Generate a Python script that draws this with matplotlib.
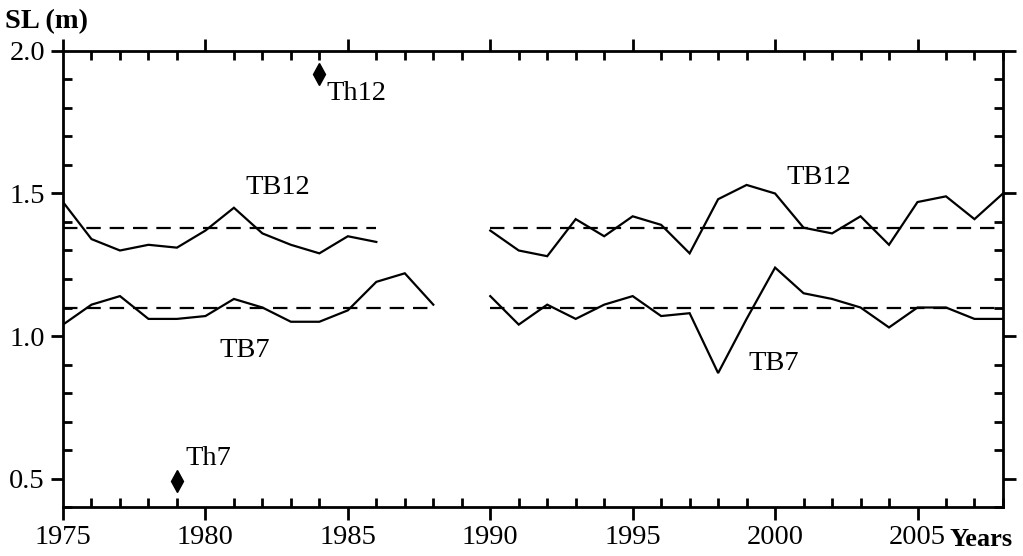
import numpy as np
import matplotlib.pyplot as plt
from matplotlib.ticker import MultipleLocator, FormatStrFormatter

plt.rcParams['font.family'] = ['Liberation Serif', 'DejaVu Serif']

# TB12 series (two segments, gap 1987-1989)
tb12_years_a = [1975, 1976, 1977, 1978, 1979, 1980, 1981, 1982, 1983, 1984, 1985, 1986]
tb12_vals_a = [1.47, 1.34, 1.30, 1.32, 1.31, 1.37, 1.45, 1.36, 1.32, 1.29, 1.35, 1.33]
tb12_years_b = list(range(1990, 2009))
tb12_vals_b = [1.37, 1.30, 1.28, 1.41, 1.35, 1.42, 1.39, 1.29, 1.48, 1.53, 1.50,
               1.38, 1.36, 1.42, 1.32, 1.47, 1.49, 1.41, 1.50]

# TB7 series
tb7_years_a = list(range(1975, 1989))
tb7_vals_a = [1.04, 1.11, 1.14, 1.06, 1.06, 1.07, 1.13, 1.10, 1.05, 1.05, 1.09,
              1.19, 1.22, 1.11]
tb7_years_b = list(range(1990, 2009))
tb7_vals_b = [1.14, 1.04, 1.11, 1.06, 1.11, 1.14, 1.07, 1.08, 0.87, 1.06, 1.24,
              1.15, 1.13, 1.10, 1.03, 1.10, 1.10, 1.06, 1.06]

# mean levels (dashed)
tb12_mean = 1.38
tb7_mean = 1.10
tb12_mean_spans = [(1975, 1986), (1990, 2008)]
tb7_mean_spans = [(1975, 1988), (1990, 2008)]

# single points
th12_year, th12_val = 1984, 1.92
th7_year, th7_val = 1979, 0.49

fig = plt.figure(figsize=(10.23, 5.56), dpi=100)
ax = fig.add_axes([0.0616, 0.0881, 0.9188, 0.8202])

lw = 1.6
for yrs, vals in [(tb12_years_a, tb12_vals_a), (tb12_years_b, tb12_vals_b),
                  (tb7_years_a, tb7_vals_a), (tb7_years_b, tb7_vals_b)]:
    ax.plot(yrs, vals, color='black', lw=lw, solid_joinstyle='miter')

for mean, spans in [(tb12_mean, tb12_mean_spans), (tb7_mean, tb7_mean_spans)]:
    for x0, x1 in spans:
        ax.plot([x0, x1], [mean, mean], color='black', lw=lw, dashes=(6.5, 4))

ax.plot([th12_year], [th12_val], marker='d', color='black', ms=11, ls='none')
ax.plot([th7_year], [th7_val], marker='d', color='black', ms=11, ls='none')

fs = 20.5
ax.text(1984.25, 1.85, 'Th12', fontsize=fs, ha='left', va='center')
ax.text(1979.3, 0.57, 'Th7', fontsize=fs, ha='left', va='center')
ax.text(1981.4, 1.52, 'TB12', fontsize=fs, ha='left', va='center')
ax.text(1980.5, 0.95, 'TB7', fontsize=fs, ha='left', va='center')
ax.text(2000.4, 1.555, 'TB12', fontsize=fs, ha='left', va='center')
ax.text(1999.05, 0.905, 'TB7', fontsize=fs, ha='left', va='center')

ax.set_xlim(1975, 2008)
ax.set_ylim(0.4, 2.0)
ax.xaxis.set_major_locator(MultipleLocator(5))
ax.xaxis.set_minor_locator(MultipleLocator(1))
ax.yaxis.set_major_locator(MultipleLocator(0.5))
ax.yaxis.set_minor_locator(MultipleLocator(0.1))
ax.yaxis.set_major_formatter(FormatStrFormatter('%.1f'))

for s in ax.spines.values():
    s.set_linewidth(2)
ax.tick_params(which='both', top=True, right=True, width=2, labelsize=fs, colors='black')
ax.tick_params(which='major', direction='out', length=9, pad=4)
ax.tick_params(which='minor', direction='in', length=6.5)

fig.text(5 / 1023, 1 - 22 / 556, 'SL (m)', fontsize=20.5, fontweight='bold',
         ha='left', va='center')
fig.text(950 / 1023, 1 - 540 / 556, 'Years', fontsize=19, fontweight='bold',
         ha='left', va='center')

fig.savefig('out.png', dpi=100)
